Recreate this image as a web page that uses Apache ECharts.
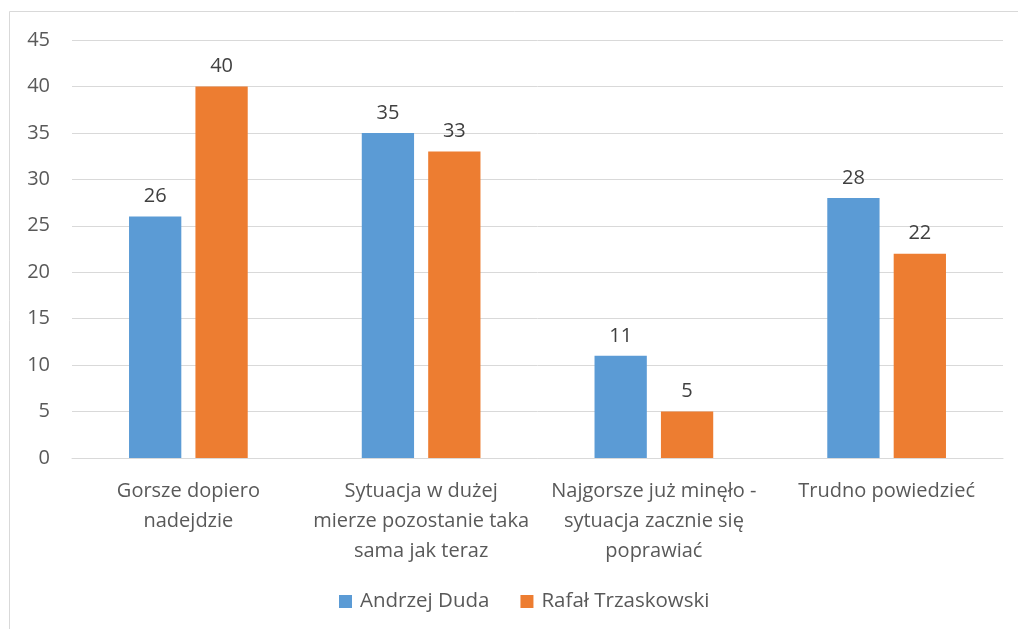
<!DOCTYPE html>
<html><head><meta charset="utf-8">
<script src="https://cdn.jsdelivr.net/npm/echarts@6/dist/echarts.min.js"></script>
<style>html,body{margin:0;padding:0;background:#fff}#c{width:1018px;height:629px}</style>
</head><body><div id="c"></div>
<script>
var categories = ["Gorsze dopiero\nnadejdzie", "Sytuacja w dużej\nmierze pozostanie taka\nsama jak teraz", "Najgorsze już minęło -\nsytuacja zacznie się\npoprawiać", "Trudno powiedzieć"];
var seriesNames = ["Andrzej Duda", "Rafał Trzaskowski"];
var duda = [26, 35, 11, 28];
var trzaskowski = [40, 33, 5, 22];
var yTicks = {min: 0, max: 45, interval: 5};

var FONT = "'Open Sans', 'Noto Sans', sans-serif";
var FS = 20;
var chart = echarts.init(document.getElementById('c'), null, {renderer: 'canvas'});
chart.setOption({
  animation: false,
  textStyle: {fontFamily: FONT},
  graphic: [{type: 'rect', shape: {x: 9.5, y: 11.5, width: 1020, height: 640}, style: {fill: 'none', stroke: '#d9d9d9', lineWidth: 1}, silent: true}],
  grid: {left: 72, right: 15, top: 40, bottom: 171, containLabel: false},
  legend: {
    bottom: 12, left: 334, itemWidth: 13, itemHeight: 13, itemGap: 31,
    icon: 'rect',
    textStyle: {fontSize: 20.5, color: '#595959', fontFamily: FONT, padding: [0, 0, 0, 3]},
    data: seriesNames
  },
  xAxis: {
    type: 'category', data: categories,
    axisLine: {show: true, lineStyle: {color: '#d9d9d9', width: 1}},
    axisTick: {show: false},
    axisLabel: {fontSize: FS, color: '#595959', lineHeight: 30, margin: 18, interval: 0, fontFamily: FONT}
  },
  yAxis: {
    type: 'value', min: yTicks.min, max: yTicks.max, interval: yTicks.interval,
    axisLine: {show: false}, axisTick: {show: false},
    splitLine: {lineStyle: {color: '#d9d9d9', width: 1}},
    axisLabel: {fontSize: FS, color: '#595959', margin: 22, fontFamily: FONT}
  },
  series: [
    {name: seriesNames[0], type: 'bar', data: duda, barGap: '27%', barCategoryGap: '49%',
     itemStyle: {color: '#5b9bd5'},
     label: {show: true, position: 'top', distance: 10, fontSize: FS, color: '#404040', fontFamily: FONT}},
    {name: seriesNames[1], type: 'bar', data: trzaskowski, barGap: '27%', barCategoryGap: '49%',
     itemStyle: {color: '#ed7d31'},
     label: {show: true, position: 'top', distance: 10, fontSize: FS, color: '#404040', fontFamily: FONT}}
  ]
});
</script></body></html>
